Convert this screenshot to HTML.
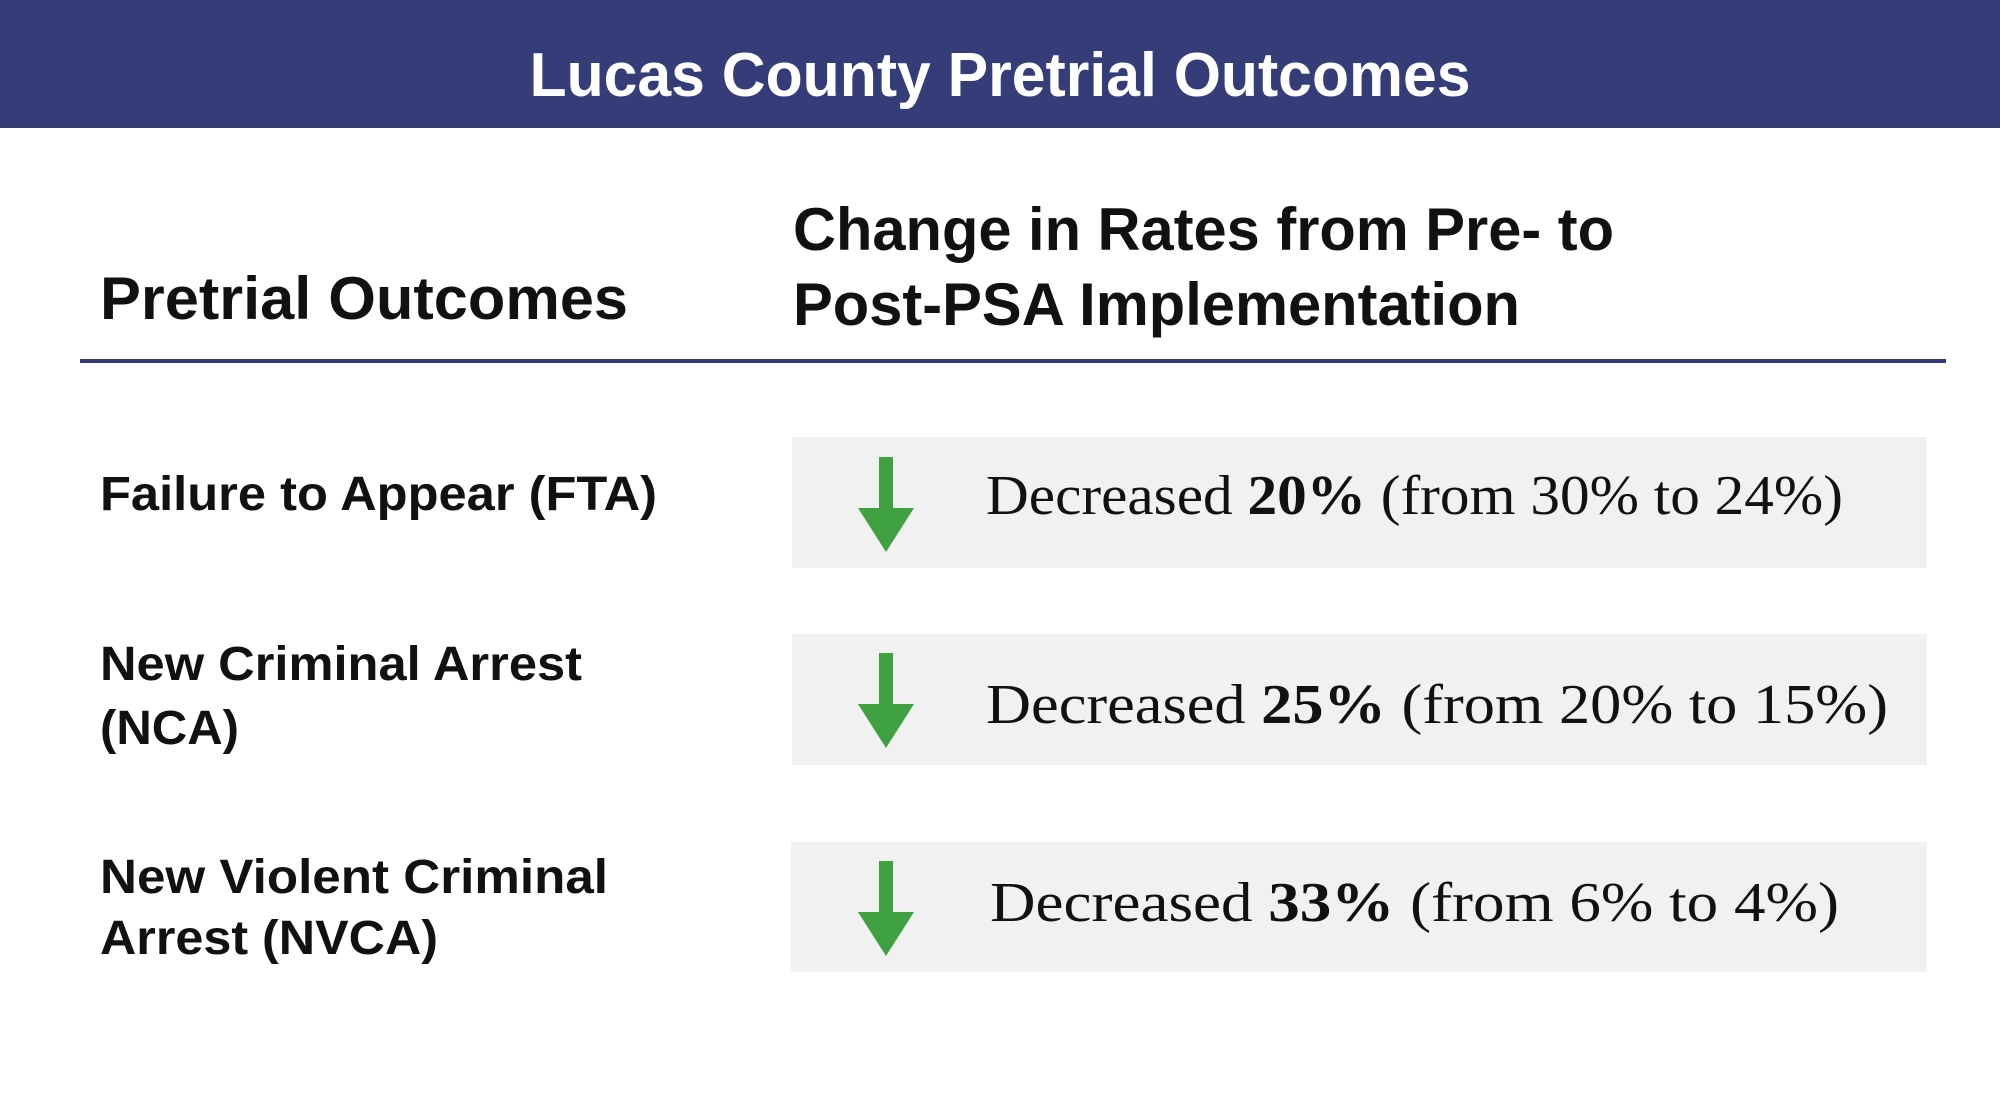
<!DOCTYPE html>
<html><head><meta charset="utf-8"><style>html,body{margin:0;padding:0;background:#fff}svg{display:block}</style></head>
<body>
<svg width="2000" height="1106" viewBox="0 0 2000 1106" xmlns="http://www.w3.org/2000/svg">
<rect x="0" y="0" width="2000" height="128" fill="#343d78"/>
<text x="1000" y="96" text-anchor="middle" font-family="Liberation Sans, sans-serif" font-weight="bold" font-size="62" fill="#fff" textLength="941" lengthAdjust="spacingAndGlyphs">Lucas County Pretrial Outcomes</text>
<g font-family="Liberation Sans, sans-serif" font-weight="bold" fill="#111">
<text x="100" y="319" font-size="60" textLength="528" lengthAdjust="spacingAndGlyphs">Pretrial Outcomes</text>
<text x="793" y="250" font-size="60" textLength="821" lengthAdjust="spacingAndGlyphs">Change in Rates from Pre- to</text>
<text x="793" y="325" font-size="60" textLength="727" lengthAdjust="spacingAndGlyphs">Post-PSA Implementation</text>
<text x="100" y="510" font-size="48" textLength="557" lengthAdjust="spacingAndGlyphs">Failure to Appear (FTA)</text>
<text x="100" y="680" font-size="48" textLength="482" lengthAdjust="spacingAndGlyphs">New Criminal Arrest</text>
<text x="100" y="744" font-size="48" textLength="139" lengthAdjust="spacingAndGlyphs">(NCA)</text>
<text x="100" y="893" font-size="48" textLength="508" lengthAdjust="spacingAndGlyphs">New Violent Criminal</text>
<text x="100" y="954" font-size="48" textLength="338" lengthAdjust="spacingAndGlyphs">Arrest (NVCA)</text>
</g>
<rect x="80" y="359" width="1866" height="4" fill="#2e3a78"/>
<rect x="792" y="437" width="1135" height="131" fill="#f1f1f1"/>
<rect x="792" y="634" width="1135" height="131" fill="#f1f1f1"/>
<rect x="791" y="842" width="1136" height="130" fill="#f1f1f1"/>
<g fill="#3fa13f">
<path d="M879 457 H893 V508 H914 L886 552 L858 508 H879 Z"/>
<path d="M879 653 H893 V704 H914 L886 748 L858 704 H879 Z"/>
<path d="M879 861 H893 V912 H914 L886 956 L858 912 H879 Z"/>
</g>
<g font-family="Liberation Serif, serif" font-size="56" fill="#111">
<text x="986" y="514" textLength="857" lengthAdjust="spacingAndGlyphs">Decreased <tspan font-weight="bold">20%</tspan> (from 30% to 24%)</text>
<text x="986" y="723" textLength="902" lengthAdjust="spacingAndGlyphs">Decreased <tspan font-weight="bold">25%</tspan> (from 20% to 15%)</text>
<text x="990" y="921" textLength="849" lengthAdjust="spacingAndGlyphs">Decreased <tspan font-weight="bold">33%</tspan> (from 6% to 4%)</text>
</g>
</svg>
</body></html>
